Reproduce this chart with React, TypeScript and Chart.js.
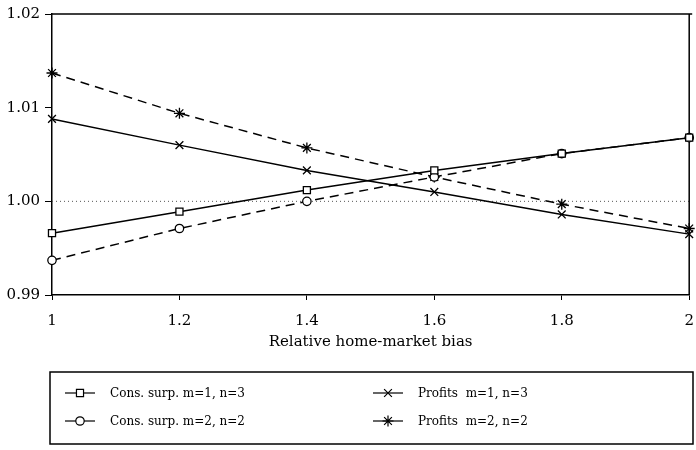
import React, { useEffect, useRef } from 'react';
import { Chart, registerables } from 'chart.js';
import { drawPoint } from 'chart.js/helpers';

Chart.register(...registerables);

// ---- data ----
const xLabels = ['1', '1.2', '1.4', '1.6', '1.8', '2'];
const consSurpM1N3 = [0.9966, 0.9989, 1.0012, 1.0033, 1.0051, 1.0068];
const consSurpM2N2 = [0.9937, 0.9971, 1.0, 1.0026, 1.0051, 1.0068];
const profitsM1N3 = [1.0088, 1.006, 1.0033, 1.001, 0.9986, 0.9965];
const profitsM2N2 = [1.0137, 1.0094, 1.0057, 1.0026, 0.9997, 0.9971];
const yTickValues = [0.99, 1.0, 1.01, 1.02];
const seriesLabels = [
  'Cons. surp. m=1, n=3',
  'Cons. surp. m=2, n=2',
  'Profits  m=1, n=3',
  'Profits  m=2, n=2',
];
const xTitle = 'Relative home-market bias';
const referenceValue = 1.0;

const FONT = '"DejaVu Serif", serif';

const framePlugin = {
  id: 'frameAndRef',
  beforeDatasetsDraw(chart: any) {
    const { ctx, chartArea } = chart;
    const y = chart.scales.y.getPixelForValue(referenceValue);
    ctx.save();
    ctx.strokeStyle = '#555';
    ctx.lineWidth = 1;
    ctx.setLineDash([1, 3]);
    ctx.beginPath();
    ctx.moveTo(chartArea.left, y);
    ctx.lineTo(chartArea.right, y);
    ctx.stroke();
    ctx.setLineDash([]);
    ctx.strokeStyle = '#000';
    ctx.lineWidth = 1.5;
    ctx.beginPath();
    ctx.moveTo(chartArea.left, chartArea.top);
    ctx.lineTo(chartArea.right + 3, chartArea.top);
    ctx.moveTo(chartArea.right, chartArea.top);
    ctx.lineTo(chartArea.right, chartArea.bottom);
    ctx.stroke();
    ctx.restore();
  },
};

const legendPlugin = {
  id: 'boxLegend',
  afterDraw(chart: any) {
    const { ctx } = chart;
    const left = 50, right = 693, top = 372, bottom = 444;
    ctx.save();
    ctx.strokeStyle = '#000';
    ctx.lineWidth = 1.5;
    ctx.strokeRect(left, top, right - left, bottom - top);
    const rows = [393, 421];
    const cols = [65, 373];
    ctx.font = '12px ' + FONT;
    ctx.fillStyle = '#000';
    ctx.textBaseline = 'middle';
    chart.data.datasets.forEach((ds: any, i: number) => {
      const cx = cols[Math.floor(i / 2)];
      const cy = rows[i % 2];
      ctx.strokeStyle = '#000';
      ctx.lineWidth = 1.2;
      ctx.setLineDash([]);
      ctx.beginPath();
      ctx.moveTo(cx, cy);
      ctx.lineTo(cx + 30, cy);
      ctx.stroke();
      ctx.fillStyle = '#fff';
      drawPoint(ctx, {
        pointStyle: ds.pointStyle,
        radius: ds.pointRadius,
        rotation: 0,
        borderWidth: 1.2,
      } as any, cx + 15, cy);
      ctx.fillStyle = '#000';
      ctx.fillText(ds.label, cx + 45, cy + 1);
    });
    ctx.restore();
  },
};

export default function App() {
  const ref = useRef<HTMLCanvasElement>(null);
  useEffect(() => {
    if (!ref.current) return;
    Chart.defaults.font.family = FONT;
    Chart.defaults.color = '#000';
    const mk = (label: string, data: number[], style: string, dashed: boolean, r: number) => ({
      label,
      data,
      borderColor: '#000',
      backgroundColor: '#fff',
      borderWidth: 1.5,
      borderDash: dashed ? [9, 6] : [],
      pointStyle: style,
      pointRadius: r,
      pointBorderWidth: 1.3,
      pointBorderColor: '#000',
      pointBackgroundColor: '#fff',
      tension: 0,
      fill: false,
    });
    const chart = new Chart(ref.current, {
      type: 'line',
      data: {
        labels: xLabels,
        datasets: [
          mk(seriesLabels[0], consSurpM1N3, 'rect', false, 5),
          mk(seriesLabels[1], consSurpM2N2, 'circle', true, 4.2),
          mk(seriesLabels[2], profitsM1N3, 'crossRot', false, 5.5),
          mk(seriesLabels[3], profitsM2N2, 'star', true, 5.5),
        ],
      },
      options: {
        animation: false,
        responsive: false,
        devicePixelRatio: 1,
        layout: { padding: { top: 14, right: 3, left: 0, bottom: 99 } },
        plugins: { legend: { display: false }, tooltip: { enabled: false } },
        scales: {
          x: {
            type: 'category',
            offset: false,
            grid: { drawOnChartArea: false, tickLength: 5, color: '#000', tickWidth: 1 },
            border: { display: true, color: '#000', width: 1.5 },
            ticks: { font: { size: 15 }, padding: 12, color: '#000', maxRotation: 0, autoSkip: false },
            title: {
              display: true,
              text: xTitle,
              font: { size: 15 },
              color: '#000',
              padding: { top: 0, bottom: 0 },
            },
            afterFit: (s: any) => {
              s.height = 56;
              s.paddingLeft = 0;
              s.paddingRight = 0;
            },
          },
          y: {
            min: 0.99,
            max: 1.02,
            grid: { drawOnChartArea: false, tickLength: 7, color: '#000', tickWidth: 1 },
            border: { display: true, color: '#000', width: 1.5 },
            ticks: {
              font: { size: 15 },
              padding: 5,
              color: '#000',
              callback: (v: any) => Number(v).toFixed(2),
            },
            afterBuildTicks: (s: any) => {
              s.ticks = yTickValues.map((v) => ({ value: v }));
            },
            afterFit: (s: any) => {
              s.width = 52;
            },
          },
        },
      },
      plugins: [framePlugin, legendPlugin],
    } as any);
    return () => chart.destroy();
  }, []);
  return (
    <div style={{ position: 'absolute', left: 0, top: 0, width: 696, height: 450, background: '#fff' }}>
      <canvas ref={ref} width={696} height={450} style={{ width: 696, height: 450 }} />
    </div>
  );
}
